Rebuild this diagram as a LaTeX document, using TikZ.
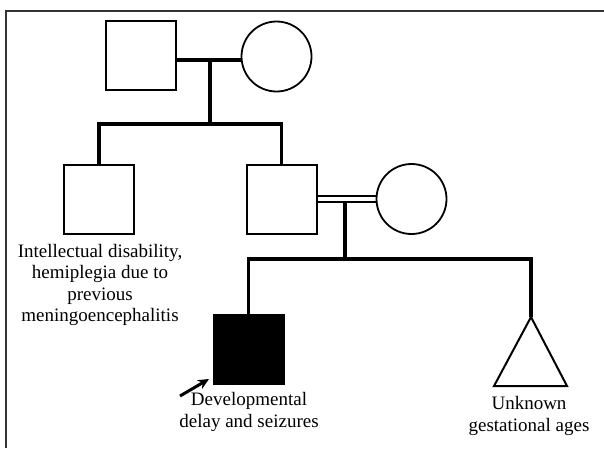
\documentclass[tikz,border=0pt]{standalone}
\usepackage{fontspec}
\setmainfont{Liberation Serif}
\usetikzlibrary{arrows.meta,calc}
\begin{document}
\begin{tikzpicture}[x=1pt,y=-1pt,
  male/.style={draw,line width=2pt,minimum width=70pt,minimum height=69pt,inner sep=0pt},
  female/.style={draw,line width=1.8pt,circle,minimum size=70pt,inner sep=0pt},
  affected/.style={male,fill=black},
  famline/.style={line width=3.2pt},
  lbl/.style={font=\fontsize{19}{21.5}\selectfont,align=center,inner sep=0pt}]
\useasboundingbox (0,0) rectangle (604,448);
% frame
\draw[line width=1.2pt,black!80] (6,448) -- (6,11) -- (604,11);
% generation I
\node[male] (gf) at (141,55.5) {};
\node[female] (gm) at (276.5,56.5) {};
\coordinate (m1) at (210,60);
\coordinate (s1) at (210,124);
% generation II
\node[male] (c1) at (99,199) {};
\node[male] (c2) at (281.5,199) {};
\node[female] (sp) at (411.5,199) {};
\coordinate (m2) at (345,201.5);
\coordinate (s2) at (345,259);
% generation III
\node[affected] (pr) at (248.5,349) {};
\coordinate (tri) at (531,317);
\coordinate (tril) at (494,386);
\coordinate (trir) at (567,386);
% lines
\draw[famline] (gf.east |- m1) -- (m1) -- (gm.west |- m1);
\draw[famline] (m1) -- (s1);
\draw[famline,line join=miter] (c1.north) -- (c1.north |- s1) -- (c2.north |- s1) -- (c2.north);
\draw[line width=2pt] ([yshift=-2.7pt]c2.east) -- ([yshift=-2.7pt]sp.west);
\draw[line width=2pt] ([yshift=2.7pt]c2.east) -- ([yshift=2.7pt]sp.west);
\draw[famline] (m2) -- (s2);
\draw[famline,line join=miter] (pr.north) -- (pr.north |- s2) -- (tri |- s2) -- (tri);
\draw[line width=2pt,line join=miter] (tri) -- (tril) -- (trir) -- cycle;
% proband arrow
\coordinate (arrS) at (180,396);
\coordinate (arrE) at (209,379);
\draw[line width=3pt,-{Stealth[length=11pt,width=10pt]}] (arrS) -- (arrE);
% labels
\node[lbl] (l1) at (100,285) {Intellectual disability,\\hemiplegia due to\\previous\\meningoencephalitis};
\node[lbl] (l2) at (249,412) {Developmental\\delay and seizures};
\node[lbl] (l3) at (529,416) {Unknown\\gestational ages};
\end{tikzpicture}
\end{document}
